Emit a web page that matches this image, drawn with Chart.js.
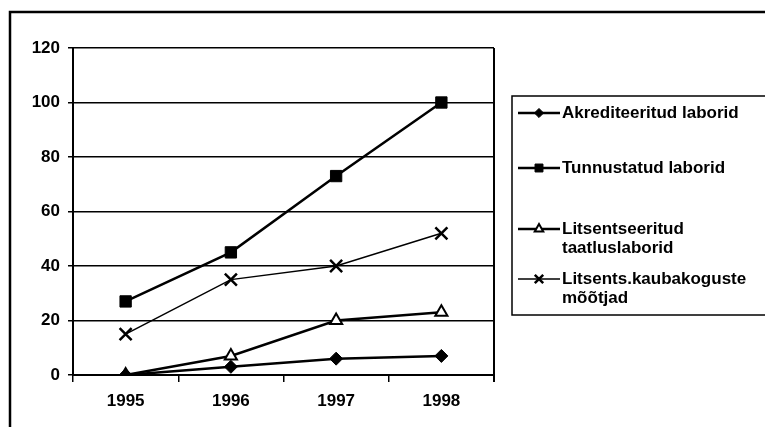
<!DOCTYPE html>
<html>
<head>
<meta charset="utf-8">
<script src="https://cdn.jsdelivr.net/npm/chart.js@4.4.1/dist/chart.umd.min.js"></script>
<style>
  body { margin: 0; background: #fff; }
  canvas { display: block; }
</style>
</head>
<body>
<canvas id="myChart" width="765" height="427"></canvas>
<script>
// data
var years = ['1995', '1996', '1997', '1998'];
var akrediteeritud = [0, 3, 6, 7];
var tunnustatud = [27, 45, 73, 100];
var litsentseeritud = [0, 7, 20, 23];
var kaubakoguste = [15, 35, 40, 52];
var yMin = 0, yMax = 120, yStep = 20;

// legend texts (one array per entry, one string per line)
var legendTexts = [
  ['Akrediteeritud laborid'],
  ['Tunnustatud laborid'],
  ['Litsentseeritud', 'taatluslaborid'],
  ['Litsents.kaubakoguste', 'mõõtjad']
];

var FAMILY = '"Liberation Sans", Arial, sans-serif';
var FONT = 'bold 17px ' + FAMILY;

//white page plus the old frame line on top and left
var framePlugin = {
  id: 'frame',
  beforeDraw: function(chart) {
    var c = chart.ctx;
    c.save();
    c.fillStyle = '#fff';
    c.fillRect(0, 0, chart.width, chart.height);
    c.strokeStyle = '#000';
    c.lineWidth = 2.5;
    c.beginPath();
    c.moveTo(10, chart.height);
    c.lineTo(10, 12);
    c.lineTo(chart.width, 12);
    c.stroke();
    c.restore();
  },
  afterDatasetsDraw: function(chart) {
    //right edge of the plot area
    var a = chart.chartArea;
    var c = chart.ctx;
    c.save();
    c.strokeStyle = '#000';
    c.lineWidth = 2;
    c.beginPath();
    c.moveTo(a.right, a.top);
    c.lineTo(a.right, a.bottom + 7);
    c.stroke();
    c.restore();
  }
};

//legend box on the right, drawn with the same point styles as the datasets
var legendPlugin = {
  id: 'boxLegend',
  afterDraw: function(chart) {
    var c = chart.ctx;
    var rows = [113, 168, 229, 279];
    c.save();
    c.strokeStyle = '#000';
    c.lineWidth = 1.5;
    c.strokeRect(512, 96, 270, 219);
    chart.data.datasets.forEach(function(ds, i) {
      var y = rows[i];
      c.strokeStyle = '#000';
      c.lineWidth = ds.borderWidth;
      c.beginPath();
      c.moveTo(518, y);
      c.lineTo(560, y);
      c.stroke();
      c.fillStyle = ds.pointBackgroundColor;
      c.strokeStyle = '#000';
      c.lineWidth = ds.pointBorderWidth;
      Chart.helpers.drawPoint(c, {
        pointStyle: ds.pointStyle,
        radius: ds.pointRadius * 0.7,
        rotation: 0,
        borderWidth: ds.pointBorderWidth
      }, 539, y);
      c.fillStyle = '#000';
      c.font = FONT;
      c.textBaseline = 'middle';
      c.textAlign = 'left';
      legendTexts[i].forEach(function(line, j) {
        c.fillText(line, 562, y + j * 19);
      });
    });
    c.restore();
  }
};

var ctx = document.getElementById('myChart');
var chart = new Chart(ctx, {
  type: 'line',
  data: {
    labels: years,
    datasets: [{
      label: legendTexts[0].join(' '),
      data: akrediteeritud,
      borderColor: '#000',
      borderWidth: 2.5,
      pointStyle: 'rectRot',
      pointRadius: 6.5,
      pointBackgroundColor: '#000',
      pointBorderColor: '#000',
      pointBorderWidth: 1
    }, {
      label: legendTexts[1].join(' '),
      data: tunnustatud,
      borderColor: '#000',
      borderWidth: 2.5,
      pointStyle: 'rect',
      pointRadius: 8,
      pointBackgroundColor: '#000',
      pointBorderColor: '#000',
      pointBorderWidth: 1
    }, {
      label: legendTexts[2].join(' '),
      data: litsentseeritud,
      borderColor: '#000',
      borderWidth: 2.5,
      pointStyle: 'triangle',
      pointRadius: 7,
      pointBackgroundColor: '#fff',
      pointBorderColor: '#000',
      pointBorderWidth: 2
    }, {
      label: legendTexts[3].join(' '),
      data: kaubakoguste,
      borderColor: '#000',
      borderWidth: 1.5,
      pointStyle: 'crossRot',
      pointRadius: 8.5,
      pointBackgroundColor: '#000',
      pointBorderColor: '#000',
      pointBorderWidth: 2.5
    }]
  },
  options: {
    responsive: false,
    animation: false,
    layout: { padding: { top: 48, right: 271, left: 0, bottom: 0 } },
    plugins: {
      legend: { display: false },
      tooltip: { enabled: false }
    },
    scales: {
      x: {
        offset: true,
        grid: {
          offset: true,
          drawOnChartArea: false,
          color: '#000',
          lineWidth: 1.5,
          tickLength: 7
        },
        border: { display: true, color: '#000', width: 2 },
        ticks: {
          color: '#000',
          font: { family: FAMILY, size: 17, weight: 'bold' },
          padding: 9
        },
        afterFit: function(scale) { scale.height = 52; }
      },
      y: {
        min: yMin,
        max: yMax,
        grid: {
          color: '#000',
          lineWidth: 1.5,
          tickLength: 5
        },
        border: { display: true, color: '#000', width: 2 },
        ticks: {
          stepSize: yStep,
          color: '#000',
          font: { family: FAMILY, size: 17, weight: 'bold' },
          padding: 8
        },
        afterFit: function(scale) { scale.width = 73; }
      }
    }
  },
  plugins: [framePlugin, legendPlugin]
});
</script>
</body>
</html>
